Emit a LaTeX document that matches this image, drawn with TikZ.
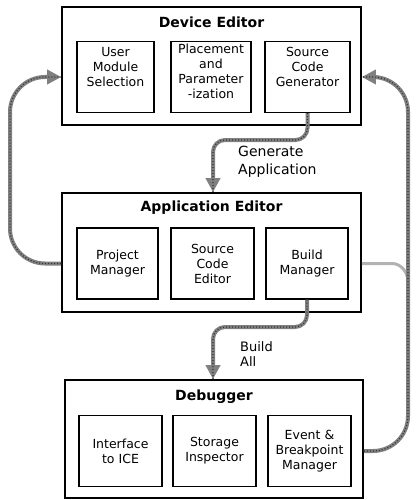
\documentclass[tikz,border=0pt]{standalone}
\usepackage{fontspec}
\setmainfont{DejaVu Sans}
\usetikzlibrary{arrows.meta,calc}
\tikzset{
	outerbox/.style={draw, line width=1.6pt, minimum width=299pt, minimum height=118pt, inner sep=0pt},
	innerbox/.style={draw, line width=1.4pt, minimum height=71pt, align=center, inner sep=0pt, font=\fontsize{12.5}{15}\selectfont},
	boxtitle/.style={font=\bfseries\fontsize{14}{16}\selectfont},
	flow/.style={draw=black!50, line width=4pt, rounded corners=12pt, -{Triangle[length=14pt,width=14pt]},
		postaction={draw=black!80, line width=1.2pt, dash pattern=on 1pt off 2pt, -}},
	branch/.style={draw=black!30, line width=3pt},
	flowlabel/.style={anchor=north west, align=left, inner sep=0pt, font=\fontsize{14}{18}\selectfont},
}

\begin{document}
\begin{tikzpicture}[x=1pt, y=-1pt]
			%%%%% START %%%%%
			\useasboundingbox (0, 0) rectangle (416, 500);
			
			% device editor
			\node[outerbox] (dev) at (211.5, 66) {};
			\node[boxtitle] (devtitle) at (211.5, 22) {Device Editor};
			\node[innerbox, minimum width=77pt, text depth=21pt] (ums) at (115.5, 77) {User\\Module\\Selection};
			\node[innerbox, minimum width=80pt, text depth=12pt] (ppi) at (211, 77) {Placement\\and\\Parameter\\-ization};
			\node[innerbox, minimum width=85pt, text depth=21pt] (scg) at (307.5, 77) {Source\\Code\\Generator};
			
			% application editor
			\node[outerbox, minimum height=119pt] (app) at (211.5, 252.5) {};
			\node[boxtitle] (apptitle) at (211.5, 208) {Application Editor};
			\node[innerbox, minimum width=81pt] (pm) at (117.5, 263.5) {Project\\Manager};
			\node[innerbox, minimum width=83pt] (sce) at (212.5, 263.5) {Source\\Code\\Editor};
			\node[innerbox, minimum width=82pt] (bm) at (307, 263.5) {Build\\Manager};
			
			% debugger
			\node[outerbox, minimum width=298pt] (dbg) at (214, 439) {};
			\node[boxtitle] (dbgtitle) at (214, 397) {Debugger};
			\node[innerbox, minimum width=83pt] (ice) at (120.5, 451) {Interface\\to ICE};
			\node[innerbox, minimum width=83pt] (si) at (214.5, 451) {Storage\\Inspector};
			\node[innerbox, minimum width=83pt] (ebm) at (309.5, 451) {Event \&\\Breakpoint\\Manager};
			
			% flows between the editors
			\coordinate (genbend) at (213, 140);
			\draw[flow] (scg.south) |- (genbend) -- (genbend |- app.north);
			\node[flowlabel] (genlabel) at (238, 146) {Generate\\Application};
			
			\coordinate (bldbend) at (213, 327);
			\draw[flow] (bm.south) |- (bldbend) -- (bldbend |- dbg.north);
			\node[flowlabel, font=\fontsize{13}{15}\selectfont] (bldlabel) at (240, 341) {Build\\All};
			
			% loops back to the device editor
			\coordinate (lftbend) at (10, 77);
			\draw[flow, rounded corners=35pt] (app.west |- pm.center) -| (lftbend) -- (dev.west |- ums.center);
			
			\coordinate (rgtbend) at (408, 77);
			\coordinate (rgtjoin) at (408, 282);
			\draw[branch] (app.east |- bm.center) -- ++(30, 0) to[out=0, in=90] (rgtjoin);
			\draw[flow, rounded corners=35pt] (dbg.east |- ebm.center) -| (rgtbend) -- (dev.east |- scg.center);
			
			%%%%% END %%%%%
\end{tikzpicture}
\end{document}
